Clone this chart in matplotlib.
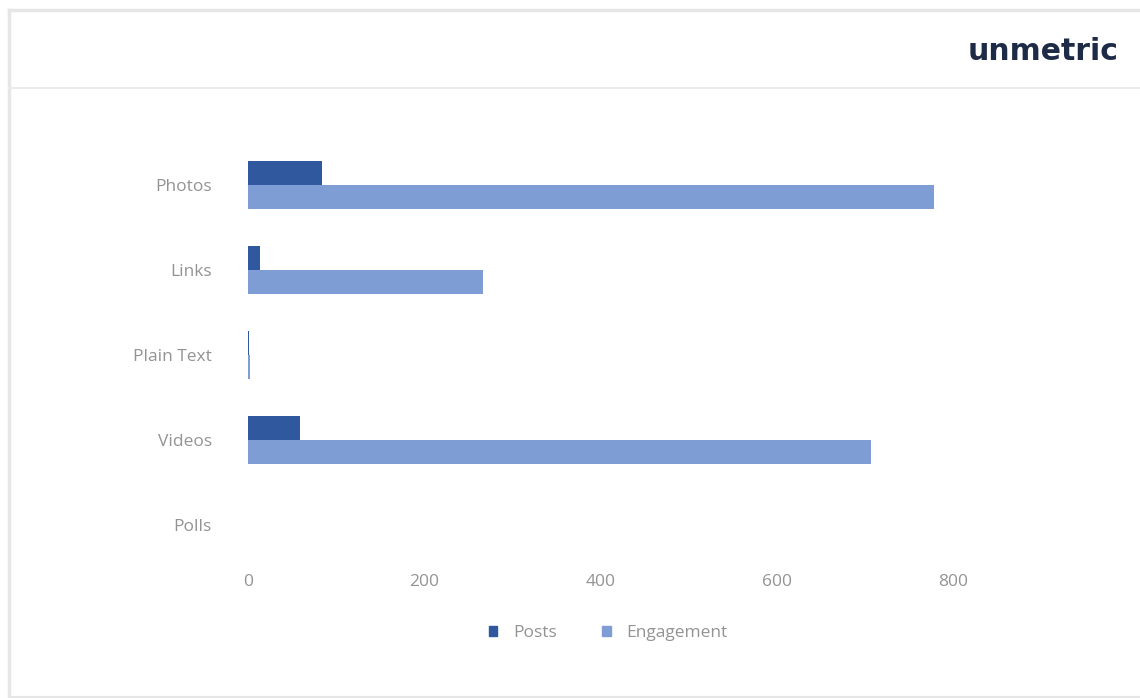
import matplotlib
matplotlib.use("Agg")
import matplotlib.pyplot as plt
from matplotlib.patches import Rectangle
from matplotlib.lines import Line2D
import numpy as np

categories = ["Photos", "Links", "Plain Text", "Videos", "Polls"]
posts = [84, 14, 1, 59, 0]
engagement = [779, 267, 2, 707, 0]
x_ticks = [0, 200, 400, 600, 800]

POSTS_C = "#30589F"
ENG_C = "#7E9DD4"
TEXT_C = "#939393"

plt.rcParams['font.family'] = ['Open Sans', 'DejaVu Sans']

W, H = 1140, 698
fig = plt.figure(figsize=(W / 100, H / 100), dpi=100)
fig.patch.set_facecolor("white")


def fx(px):
    return px / W


def fy(py):
    return 1 - py / H


frame_c = "#E6E6E6"
fig.add_artist(Line2D([fx(9), fx(9)], [fy(10), fy(697)], color=frame_c, lw=2.5, transform=fig.transFigure))
fig.add_artist(Line2D([fx(9), fx(1140)], [fy(10), fy(10)], color=frame_c, lw=2.5, transform=fig.transFigure))
fig.add_artist(Line2D([fx(9), fx(1140)], [fy(88), fy(88)], color="#EBEBEB", lw=1.5, transform=fig.transFigure))
fig.add_artist(Line2D([fx(9), fx(1140)], [fy(697), fy(697)], color=frame_c, lw=1.5, transform=fig.transFigure))

fig.text(fx(1119), fy(51), "unmetric", ha="right", va="center", fontsize=21.5,
         fontweight="bold", color="#1E2B47", family=["DejaVu Sans"])

ax = fig.add_axes([fx(248), fy(567.5), fx(1129) - fx(248), fy(142.5) - fy(567.5)])
y = np.arange(len(categories))
h = 0.285
ax.barh(y - h / 2, posts, height=h, color=POSTS_C, label="Posts")
ax.barh(y + h / 2, engagement, height=h, color=ENG_C, label="Engagement")
ax.set_ylim(len(categories) - 0.5, -0.5)
ax.set_xlim(0, 1000)
ax.set_yticks(y)
ax.set_yticklabels(categories)
ax.set_xticks(x_ticks)
ax.set_xticklabels([str(t) for t in x_ticks])
for s in ax.spines.values():
    s.set_visible(False)
ax.tick_params(axis="both", length=0, colors=TEXT_C, labelsize=12.5)
ax.tick_params(axis="y", pad=26)
ax.tick_params(axis="x", pad=5)

handles = [Rectangle((0, 0), 1, 1, color=POSTS_C), Rectangle((0, 0), 1, 1, color=ENG_C)]
leg = fig.legend(handles, ["Posts", "Engagement"], loc="center", bbox_to_anchor=(fx(608), fy(633)),
                 ncol=2, frameon=False, handlelength=0.5, handleheight=0.5, handletextpad=0.9,
                 columnspacing=2.6, fontsize=12.5)
for t in leg.get_texts():
    t.set_color(TEXT_C)

fig.savefig("out.png", dpi=100)
